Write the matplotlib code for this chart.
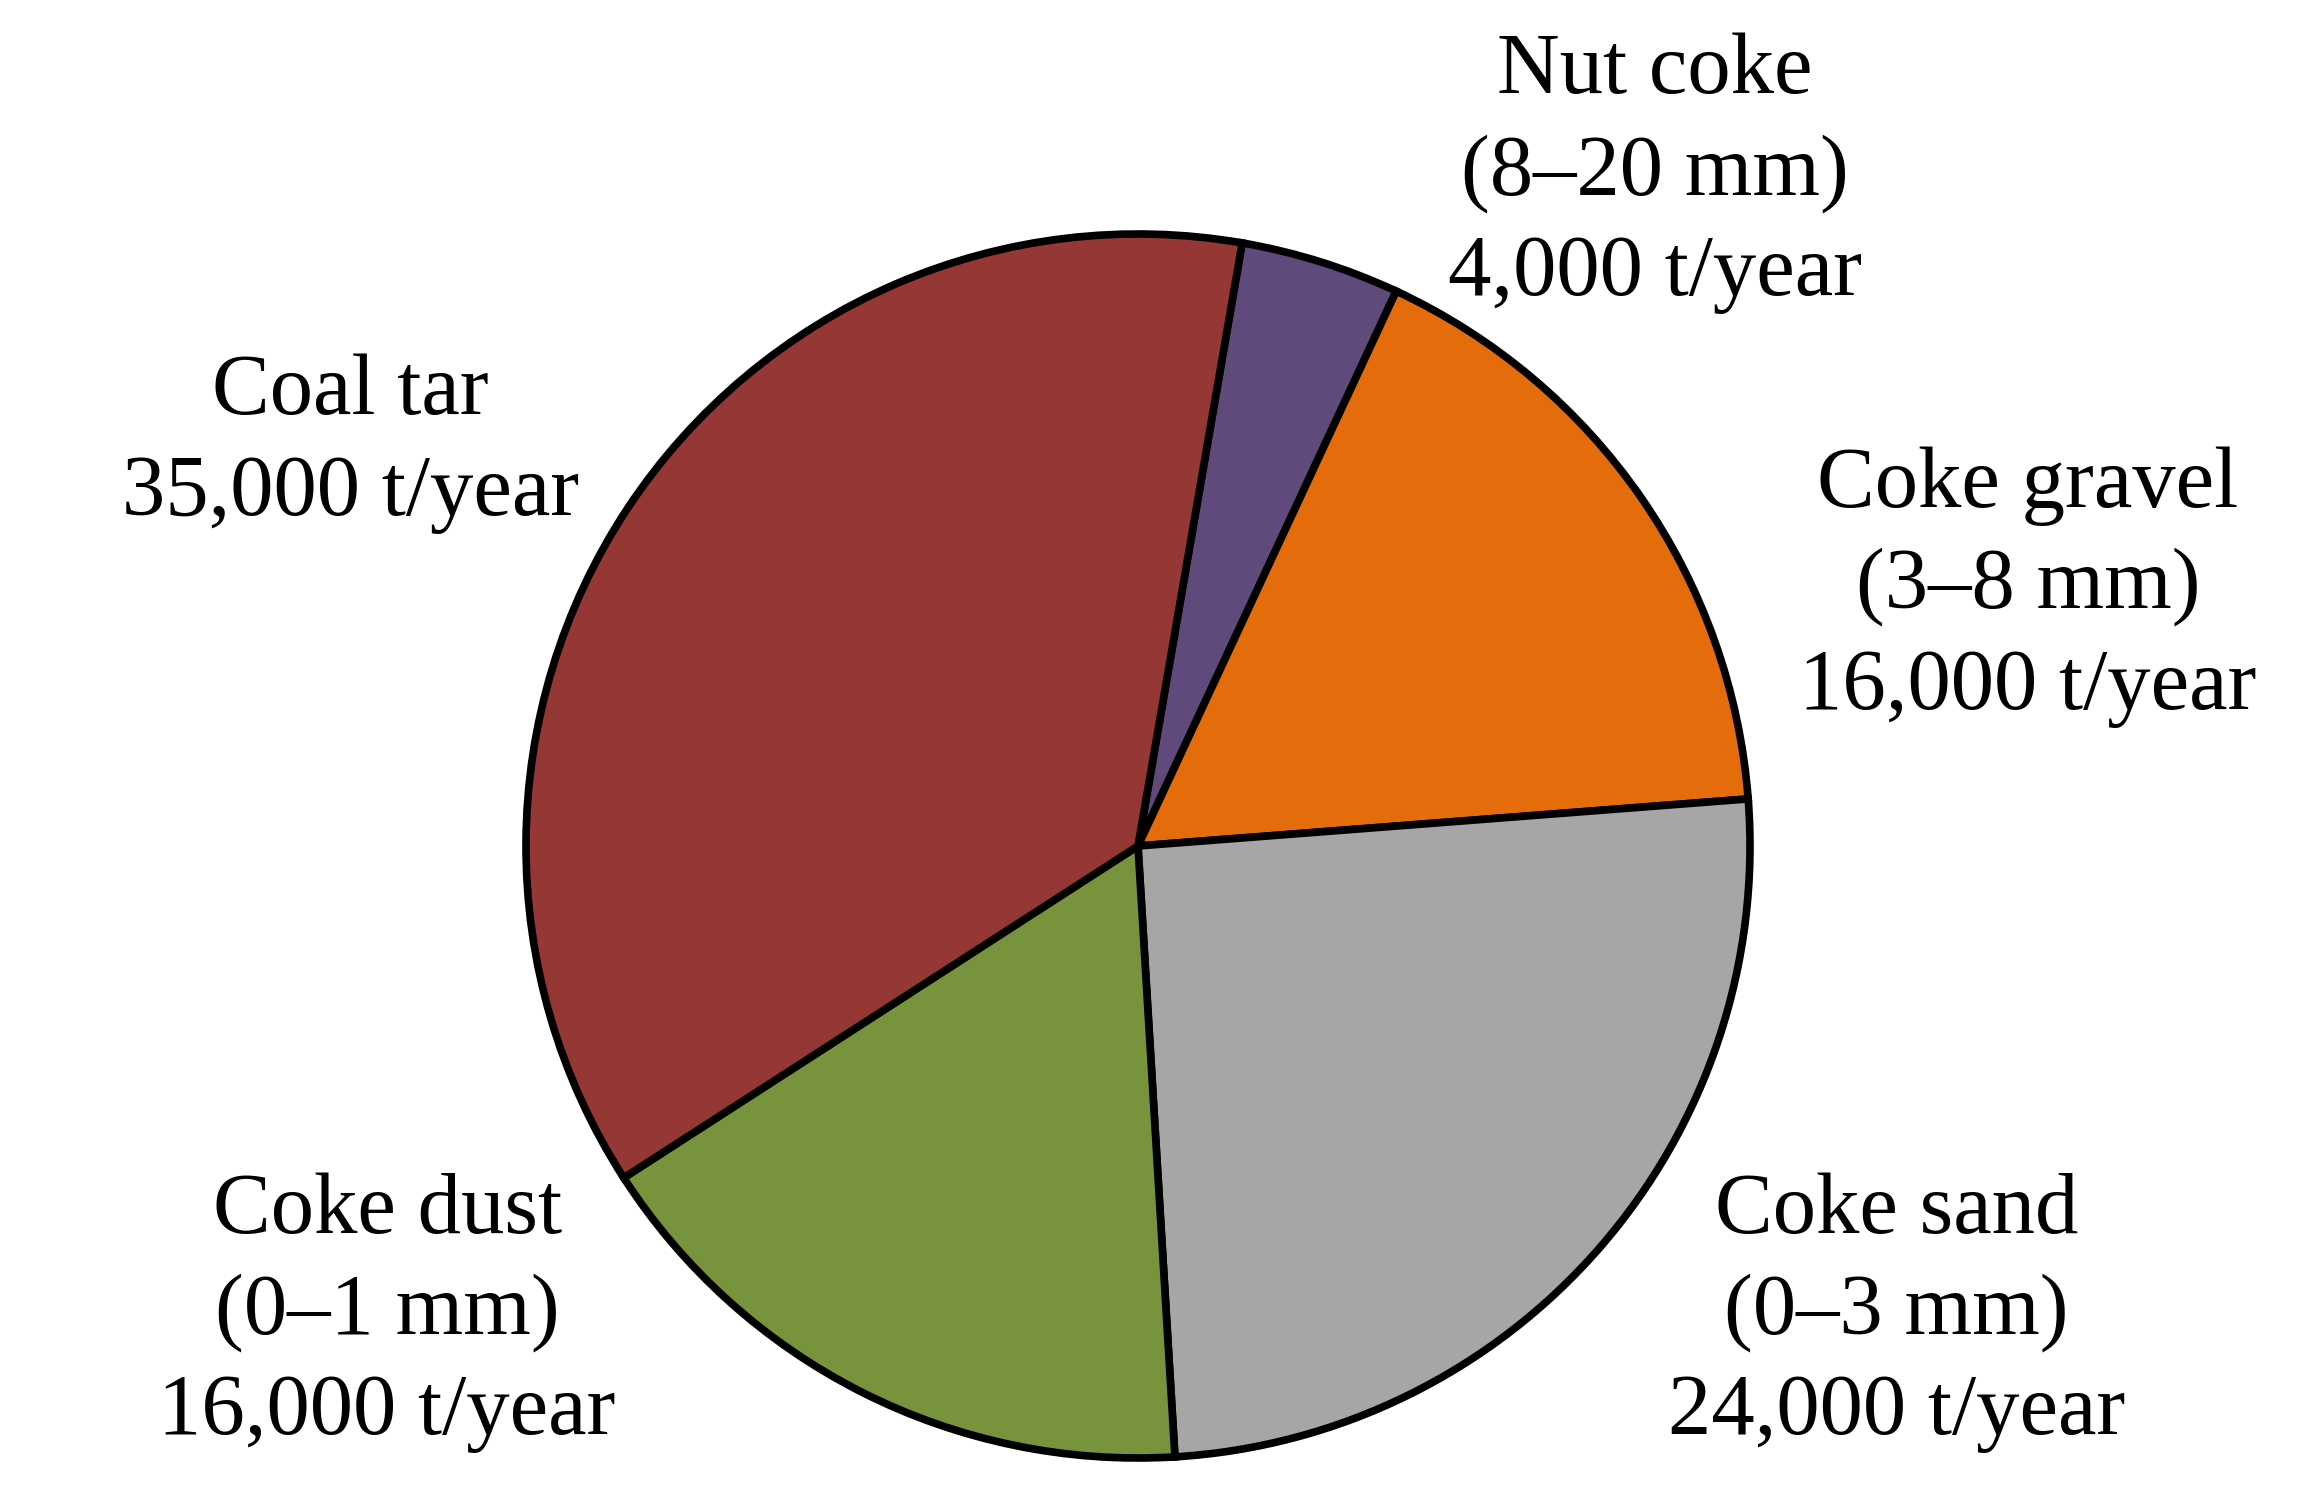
import matplotlib.pyplot as plt

labels = ["Nut coke\n(8\u201320 mm)\n4,000 t/year",
          "Coke gravel\n(3\u20138 mm)\n16,000 t/year",
          "Coke sand\n(0\u20133 mm)\n24,000 t/year",
          "Coke dust\n(0\u20131 mm)\n16,000 t/year",
          "Coal tar\n35,000 t/year"]
values = [4000, 16000, 24000, 16000, 35000]
colors = ["#604A7B", "#E46C0A", "#A6A6A6", "#77933C", "#953735"]
# label centres in units of pie radius
label_x = [0.845, 1.454, 1.239, -1.227, -1.287]
label_y = [1.099, 0.423, -0.763, -0.763, 0.657]

plt.rcParams['font.family'] = ['Liberation Serif', 'DejaVu Serif']

W, H = 2319, 1506
fig = plt.figure(figsize=(W / 100, H / 100), dpi=100)
ax = fig.add_axes([0, 0, 1, 1])

cx, cy, r = 1138, 846, 612
ax.pie(values, colors=colors, startangle=80.2, counterclock=False,
       radius=1, wedgeprops=dict(edgecolor='black', linewidth=5.5))
ax.set_xlim(-cx / r, (W - cx) / r)
ax.set_ylim(-(H - cy) / r, cy / r)
ax.set_aspect('equal')
ax.axis('off')

for lab, x, y in zip(labels, label_x, label_y):
    ax.text(x, y, lab, ha='center', va='center', fontsize=62.5, linespacing=1.35)

fig.savefig("out.png", dpi=100)
